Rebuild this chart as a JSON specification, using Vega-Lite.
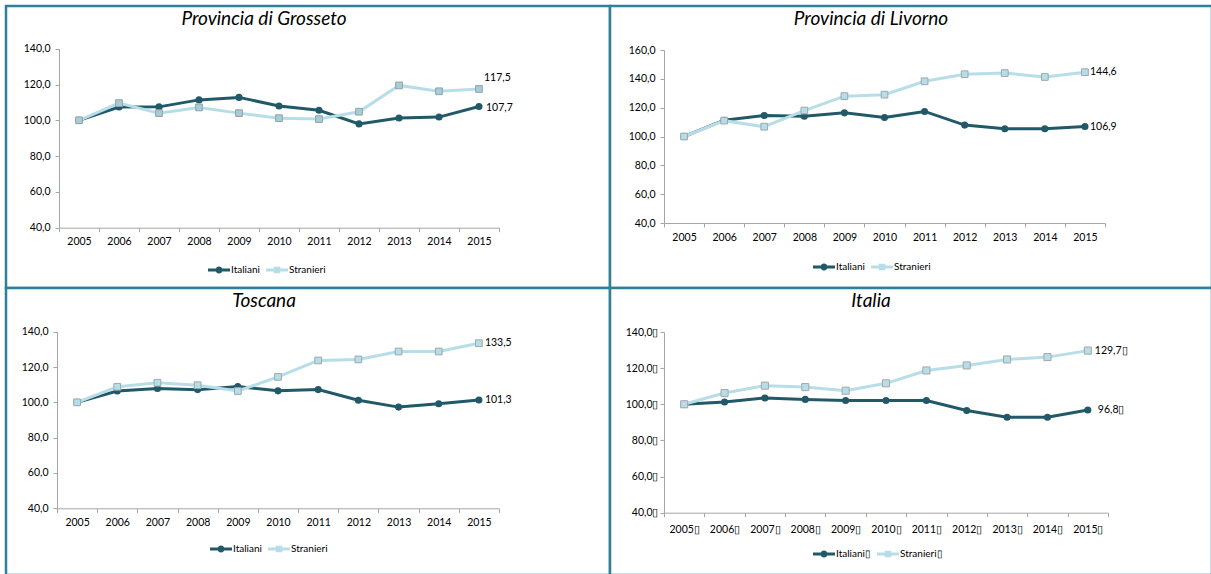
{
  "$schema": "https://vega.github.io/schema/vega-lite/v6.json",
  "background": "white",
  "padding": {"left": 4, "top": 4, "right": 0, "bottom": 0},
  "columns": 2,
  "spacing": 0,
  "bounds": "flush",
  "config": {
    "locale": {"number": {"decimal": ",", "thousands": ".", "grouping": [3], "currency": ["€", ""]}},
    "view": {"stroke": "#2F8098", "strokeWidth": 2.5, "fill": "white"},
    "axis": {
      "domainColor": "#A6A6A6", "tickColor": "#A6A6A6", "tickSize": 4,
      "labelFont": "Lato", "labelFontSize": 10.5, "labelColor": "#000000",
      "labelPadding": 5, "grid": false, "title": null
    },
    "legend": {
      "orient": "none", "direction": "horizontal", "title": null, "padding": 0,
      "labelFont": "Lato", "labelFontSize": 10, "labelColor": "#000000",
      "labelOffset": 1, "columnPadding": 6, "symbolSize": 484
    },
    "title": {"font": "Lato", "fontStyle": "italic", "fontWeight": "normal", "fontSize": 19, "color": "#000000", "anchor": "middle", "frame": "group", "offset": 0}
  },
  "resolve": {"scale": {"color": "independent"}, "legend": {"color": "independent"}},
  "datasets": {
    "grosseto": [
      {"anno": 2005, "serie": "Italiani", "valore": 100.0}, {"anno": 2006, "serie": "Italiani", "valore": 107.4},
      {"anno": 2007, "serie": "Italiani", "valore": 107.5}, {"anno": 2008, "serie": "Italiani", "valore": 111.4},
      {"anno": 2009, "serie": "Italiani", "valore": 112.8}, {"anno": 2010, "serie": "Italiani", "valore": 108.0},
      {"anno": 2011, "serie": "Italiani", "valore": 105.6}, {"anno": 2012, "serie": "Italiani", "valore": 98.0},
      {"anno": 2013, "serie": "Italiani", "valore": 101.3}, {"anno": 2014, "serie": "Italiani", "valore": 101.8},
      {"anno": 2015, "serie": "Italiani", "valore": 107.7},
      {"anno": 2005, "serie": "Stranieri", "valore": 100.0}, {"anno": 2006, "serie": "Stranieri", "valore": 109.6},
      {"anno": 2007, "serie": "Stranieri", "valore": 104.0}, {"anno": 2008, "serie": "Stranieri", "valore": 107.2},
      {"anno": 2009, "serie": "Stranieri", "valore": 104.0}, {"anno": 2010, "serie": "Stranieri", "valore": 101.2},
      {"anno": 2011, "serie": "Stranieri", "valore": 100.7}, {"anno": 2012, "serie": "Stranieri", "valore": 104.8},
      {"anno": 2013, "serie": "Stranieri", "valore": 119.5}, {"anno": 2014, "serie": "Stranieri", "valore": 116.2},
      {"anno": 2015, "serie": "Stranieri", "valore": 117.5}
    ],
    "livorno": [
      {"anno": 2005, "serie": "Italiani", "valore": 100.0}, {"anno": 2006, "serie": "Italiani", "valore": 111.3},
      {"anno": 2007, "serie": "Italiani", "valore": 114.6}, {"anno": 2008, "serie": "Italiani", "valore": 114.0},
      {"anno": 2009, "serie": "Italiani", "valore": 116.4}, {"anno": 2010, "serie": "Italiani", "valore": 113.2},
      {"anno": 2011, "serie": "Italiani", "valore": 117.4}, {"anno": 2012, "serie": "Italiani", "valore": 107.9},
      {"anno": 2013, "serie": "Italiani", "valore": 105.4}, {"anno": 2014, "serie": "Italiani", "valore": 105.4},
      {"anno": 2015, "serie": "Italiani", "valore": 106.9},
      {"anno": 2005, "serie": "Stranieri", "valore": 100.0}, {"anno": 2006, "serie": "Stranieri", "valore": 111.0},
      {"anno": 2007, "serie": "Stranieri", "valore": 106.8}, {"anno": 2008, "serie": "Stranieri", "valore": 118.0},
      {"anno": 2009, "serie": "Stranieri", "valore": 128.0}, {"anno": 2010, "serie": "Stranieri", "valore": 129.0},
      {"anno": 2011, "serie": "Stranieri", "valore": 138.3}, {"anno": 2012, "serie": "Stranieri", "valore": 143.2},
      {"anno": 2013, "serie": "Stranieri", "valore": 144.0}, {"anno": 2014, "serie": "Stranieri", "valore": 141.3},
      {"anno": 2015, "serie": "Stranieri", "valore": 144.6}
    ],
    "toscana": [
      {"anno": 2005, "serie": "Italiani", "valore": 100.0}, {"anno": 2006, "serie": "Italiani", "valore": 106.4},
      {"anno": 2007, "serie": "Italiani", "valore": 107.9}, {"anno": 2008, "serie": "Italiani", "valore": 107.2},
      {"anno": 2009, "serie": "Italiani", "valore": 109.0}, {"anno": 2010, "serie": "Italiani", "valore": 106.5},
      {"anno": 2011, "serie": "Italiani", "valore": 107.2}, {"anno": 2012, "serie": "Italiani", "valore": 101.2},
      {"anno": 2013, "serie": "Italiani", "valore": 97.3}, {"anno": 2014, "serie": "Italiani", "valore": 99.2},
      {"anno": 2015, "serie": "Italiani", "valore": 101.3},
      {"anno": 2005, "serie": "Stranieri", "valore": 100.0}, {"anno": 2006, "serie": "Stranieri", "valore": 108.8},
      {"anno": 2007, "serie": "Stranieri", "valore": 111.1}, {"anno": 2008, "serie": "Stranieri", "valore": 109.7},
      {"anno": 2009, "serie": "Stranieri", "valore": 106.4}, {"anno": 2010, "serie": "Stranieri", "valore": 114.4},
      {"anno": 2011, "serie": "Stranieri", "valore": 123.7}, {"anno": 2012, "serie": "Stranieri", "valore": 124.3},
      {"anno": 2013, "serie": "Stranieri", "valore": 128.8}, {"anno": 2014, "serie": "Stranieri", "valore": 128.8},
      {"anno": 2015, "serie": "Stranieri", "valore": 133.5}
    ],
    "italia": [
      {"anno": 2005, "serie": "Italiani", "valore": 100.0}, {"anno": 2006, "serie": "Italiani", "valore": 101.3},
      {"anno": 2007, "serie": "Italiani", "valore": 103.5}, {"anno": 2008, "serie": "Italiani", "valore": 102.7},
      {"anno": 2009, "serie": "Italiani", "valore": 102.1}, {"anno": 2010, "serie": "Italiani", "valore": 102.1},
      {"anno": 2011, "serie": "Italiani", "valore": 102.1}, {"anno": 2012, "serie": "Italiani", "valore": 96.6},
      {"anno": 2013, "serie": "Italiani", "valore": 92.8}, {"anno": 2014, "serie": "Italiani", "valore": 92.8},
      {"anno": 2015, "serie": "Italiani", "valore": 96.8},
      {"anno": 2005, "serie": "Stranieri", "valore": 100.0}, {"anno": 2006, "serie": "Stranieri", "valore": 106.2},
      {"anno": 2007, "serie": "Stranieri", "valore": 110.3}, {"anno": 2008, "serie": "Stranieri", "valore": 109.5},
      {"anno": 2009, "serie": "Stranieri", "valore": 107.5}, {"anno": 2010, "serie": "Stranieri", "valore": 111.6},
      {"anno": 2011, "serie": "Stranieri", "valore": 118.7}, {"anno": 2012, "serie": "Stranieri", "valore": 121.5},
      {"anno": 2013, "serie": "Stranieri", "valore": 124.8}, {"anno": 2014, "serie": "Stranieri", "valore": 126.1},
      {"anno": 2015, "serie": "Stranieri", "valore": 129.7}
    ]
  },
  "concat": [
    {
      "width": 604, "height": 282,
      "title": {"text": "Provincia di Grosseto", "dx": -44, "dy": 27},
      "data": {"name": "grosseto"},
      "encoding": {
        "x": {"field": "anno", "type": "ordinal",
          "scale": {"type": "band", "range": [53, 493], "paddingInner": 0, "paddingOuter": 0},
          "axis": {"offset": -60.3, "tickBand": "extent", "labelAngle": 0}},
        "y": {"field": "valore", "type": "quantitative",
          "scale": {"domain": [40, 140], "range": [221.7, 42.7], "nice": false, "zero": false},
          "axis": {"offset": -53, "values": [40, 60, 80, 100, 120, 140], "format": ".1f"}}
      },
      "layer": [
        {"mark": {"type": "line", "strokeWidth": 3},
          "encoding": {"color": {"field": "serie", "type": "nominal",
            "scale": {"domain": ["Italiani", "Stranieri"], "range": ["#215968", "#B7DEE8"]},
            "legend": {"legendX": 202, "legendY": 253,
              "encode": {"symbols": {"update": {
                "shape": {"signal": "datum.value === 'Italiani' ? 'M-1,-0.13H-0.28V0.13H-1Z M0.28,-0.13H1V0.13H0.28Z M-0.32,0A0.32,0.32 0 1,1 0.32,0A0.32,0.32 0 1,1 -0.32,0Z' : 'M-1,-0.13H-0.3V0.13H-1Z M0.3,-0.13H1V0.13H0.3Z M-0.3,-0.3H0.3V0.3H-0.3Z'"},
                "fill": {"signal": "datum.value === 'Italiani' ? '#215968' : '#B7DEE8'"},
                "strokeWidth": {"value": 0}, "opacity": {"value": 1}}}}}}}},
        {"transform": [{"filter": "datum.serie === 'Italiani'"}],
          "mark": {"type": "point", "shape": "circle", "filled": true, "size": 50, "color": "#215968", "opacity": 1}},
        {"transform": [{"filter": "datum.serie === 'Stranieri'"}],
          "mark": {"type": "point", "shape": "square", "filled": true, "size": 45, "fill": "#A9CCD6", "stroke": "#8FA3A8", "strokeWidth": 1, "opacity": 1}},
        {"transform": [{"filter": "datum.anno === 2015 && datum.serie === 'Italiani'"}],
          "mark": {"type": "text", "align": "left", "baseline": "middle", "dx": 7, "dy": 1, "font": "Lato", "fontSize": 10.5, "color": "#000000"},
          "encoding": {"text": {"field": "valore", "type": "quantitative", "format": ".1f"}}},
        {"transform": [{"filter": "datum.anno === 2015 && datum.serie === 'Stranieri'"}],
          "mark": {"type": "text", "align": "left", "baseline": "middle", "dx": 5, "dy": -11, "font": "Lato", "fontSize": 10.5, "color": "#000000"},
          "encoding": {"text": {"field": "valore", "type": "quantitative", "format": ".1f"}}}
      ]
    },
    {
      "width": 602, "height": 282,
      "title": {"text": "Provincia di Livorno", "dx": -40, "dy": 27},
      "data": {"name": "livorno"},
      "encoding": {
        "x": {"field": "anno", "type": "ordinal",
          "scale": {"type": "band", "range": [54, 495], "paddingInner": 0, "paddingOuter": 0},
          "axis": {"offset": -65, "tickBand": "extent", "labelAngle": 0}},
        "y": {"field": "valore", "type": "quantitative",
          "scale": {"domain": [40, 160], "range": [217, 44], "nice": false, "zero": false},
          "axis": {"offset": -54, "values": [40, 60, 80, 100, 120, 140, 160], "format": ".1f"}}
      },
      "layer": [
        {"mark": {"type": "line", "strokeWidth": 3},
          "encoding": {"color": {"field": "serie", "type": "nominal",
            "scale": {"domain": ["Italiani", "Stranieri"], "range": ["#215968", "#B7DEE8"]},
            "legend": {"legendX": 203, "legendY": 250,
              "encode": {"symbols": {"update": {
                "shape": {"signal": "datum.value === 'Italiani' ? 'M-1,-0.13H-0.28V0.13H-1Z M0.28,-0.13H1V0.13H0.28Z M-0.32,0A0.32,0.32 0 1,1 0.32,0A0.32,0.32 0 1,1 -0.32,0Z' : 'M-1,-0.13H-0.3V0.13H-1Z M0.3,-0.13H1V0.13H0.3Z M-0.3,-0.3H0.3V0.3H-0.3Z'"},
                "fill": {"signal": "datum.value === 'Italiani' ? '#215968' : '#B7DEE8'"},
                "strokeWidth": {"value": 0}, "opacity": {"value": 1}}}}}}}},
        {"transform": [{"filter": "datum.serie === 'Italiani'"}],
          "mark": {"type": "point", "shape": "circle", "filled": true, "size": 50, "color": "#215968", "opacity": 1}},
        {"transform": [{"filter": "datum.serie === 'Stranieri'"}],
          "mark": {"type": "point", "shape": "square", "filled": true, "size": 45, "fill": "#B7DEE8", "stroke": "#9AA9AE", "strokeWidth": 1, "opacity": 1}},
        {"transform": [{"filter": "datum.anno === 2015"}],
          "mark": {"type": "text", "align": "left", "baseline": "middle", "dx": 5, "font": "Lato", "fontSize": 10.5, "color": "#000000"},
          "encoding": {"text": {"field": "valore", "type": "quantitative", "format": ".1f"}}}
      ]
    },
    {
      "width": 604, "height": 287,
      "title": {"text": "Toscana", "dx": -44, "dy": 27},
      "data": {"name": "toscana"},
      "encoding": {
        "x": {"field": "anno", "type": "ordinal",
          "scale": {"type": "band", "range": [51, 493], "paddingInner": 0, "paddingOuter": 0},
          "axis": {"offset": -66.7, "tickBand": "extent", "labelAngle": 0}},
        "y": {"field": "valore", "type": "quantitative",
          "scale": {"domain": [40, 140], "range": [220.3, 43.7], "nice": false, "zero": false},
          "axis": {"offset": -51, "values": [40, 60, 80, 100, 120, 140], "format": ".1f"}}
      },
      "layer": [
        {"mark": {"type": "line", "strokeWidth": 3},
          "encoding": {"color": {"field": "serie", "type": "nominal",
            "scale": {"domain": ["Italiani", "Stranieri"], "range": ["#215968", "#B7DEE8"]},
            "legend": {"legendX": 204, "legendY": 250,
              "encode": {"symbols": {"update": {
                "shape": {"signal": "datum.value === 'Italiani' ? 'M-1,-0.13H-0.28V0.13H-1Z M0.28,-0.13H1V0.13H0.28Z M-0.32,0A0.32,0.32 0 1,1 0.32,0A0.32,0.32 0 1,1 -0.32,0Z' : 'M-1,-0.13H-0.3V0.13H-1Z M0.3,-0.13H1V0.13H0.3Z M-0.3,-0.3H0.3V0.3H-0.3Z'"},
                "fill": {"signal": "datum.value === 'Italiani' ? '#215968' : '#B7DEE8'"},
                "strokeWidth": {"value": 0}, "opacity": {"value": 1}}}}}}}},
        {"transform": [{"filter": "datum.serie === 'Italiani'"}],
          "mark": {"type": "point", "shape": "circle", "filled": true, "size": 50, "color": "#215968", "opacity": 1}},
        {"transform": [{"filter": "datum.serie === 'Stranieri'"}],
          "mark": {"type": "point", "shape": "square", "filled": true, "size": 45, "fill": "#B7DEE8", "stroke": "#9AA9AE", "strokeWidth": 1, "opacity": 1}},
        {"transform": [{"filter": "datum.anno === 2015"}],
          "mark": {"type": "text", "align": "left", "baseline": "middle", "dx": 6, "font": "Lato", "fontSize": 10.5, "color": "#000000"},
          "encoding": {"text": {"field": "valore", "type": "quantitative", "format": ".1f"}}}
      ]
    },
    {
      "width": 602, "height": 287,
      "title": {"text": "Italia", "dx": -40, "dy": 27},
      "data": {"name": "italia"},
      "encoding": {
        "x": {"field": "anno", "type": "ordinal",
          "scale": {"type": "band", "range": [54, 498], "paddingInner": 0, "paddingOuter": 0},
          "axis": {"offset": -62.3, "tickBand": "extent", "labelAngle": 0, "labelExpr": "datum.label ? datum.label + '▯' : ''", "labelPadding": 8}},
        "y": {"field": "valore", "type": "quantitative",
          "scale": {"domain": [40, 140], "range": [224.7, 44], "nice": false, "zero": false},
          "axis": {"offset": -54, "values": [40, 60, 80, 100, 120, 140], "format": ".1f", "labelExpr": "datum.label + '▯'", "labelPadding": 2}}
      },
      "layer": [
        {"mark": {"type": "line", "strokeWidth": 3},
          "encoding": {"color": {"field": "serie", "type": "nominal",
            "scale": {"domain": ["Italiani", "Stranieri"], "range": ["#215968", "#B7DEE8"]},
            "legend": {"legendX": 203, "legendY": 255, "labelExpr": "datum.label + '▯'",
              "encode": {"symbols": {"update": {
                "shape": {"signal": "datum.value === 'Italiani' ? 'M-1,-0.13H-0.28V0.13H-1Z M0.28,-0.13H1V0.13H0.28Z M-0.32,0A0.32,0.32 0 1,1 0.32,0A0.32,0.32 0 1,1 -0.32,0Z' : 'M-1,-0.13H-0.3V0.13H-1Z M0.3,-0.13H1V0.13H0.3Z M-0.3,-0.3H0.3V0.3H-0.3Z'"},
                "fill": {"signal": "datum.value === 'Italiani' ? '#215968' : '#B7DEE8'"},
                "strokeWidth": {"value": 0}, "opacity": {"value": 1}}}}}}}},
        {"transform": [{"filter": "datum.serie === 'Italiani'"}],
          "mark": {"type": "point", "shape": "circle", "filled": true, "size": 50, "color": "#215968", "opacity": 1}},
        {"transform": [{"filter": "datum.serie === 'Stranieri'"}],
          "mark": {"type": "point", "shape": "square", "filled": true, "size": 50, "fill": "#B7DEE8", "stroke": "#A6A6A6", "strokeWidth": 1, "opacity": 1}},
        {"transform": [{"filter": "datum.anno === 2015 && datum.serie === 'Stranieri'"}, {"calculate": "replace(format(datum.valore, '.1f'), '.', ',') + '▯'", "as": "etichetta"}],
          "mark": {"type": "text", "align": "left", "baseline": "middle", "dx": 7, "font": "Lato", "fontSize": 10.5, "color": "#000000"},
          "encoding": {"text": {"field": "etichetta", "type": "nominal"}}},
        {"transform": [{"filter": "datum.anno === 2015 && datum.serie === 'Italiani'"}, {"calculate": "replace(format(datum.valore, '.1f'), '.', ',') + '▯'", "as": "etichetta"}],
          "mark": {"type": "text", "align": "left", "baseline": "middle", "dx": 10, "font": "Lato", "fontSize": 10.5, "color": "#000000"},
          "encoding": {"text": {"field": "etichetta", "type": "nominal"}}}
      ]
    }
  ]
}
